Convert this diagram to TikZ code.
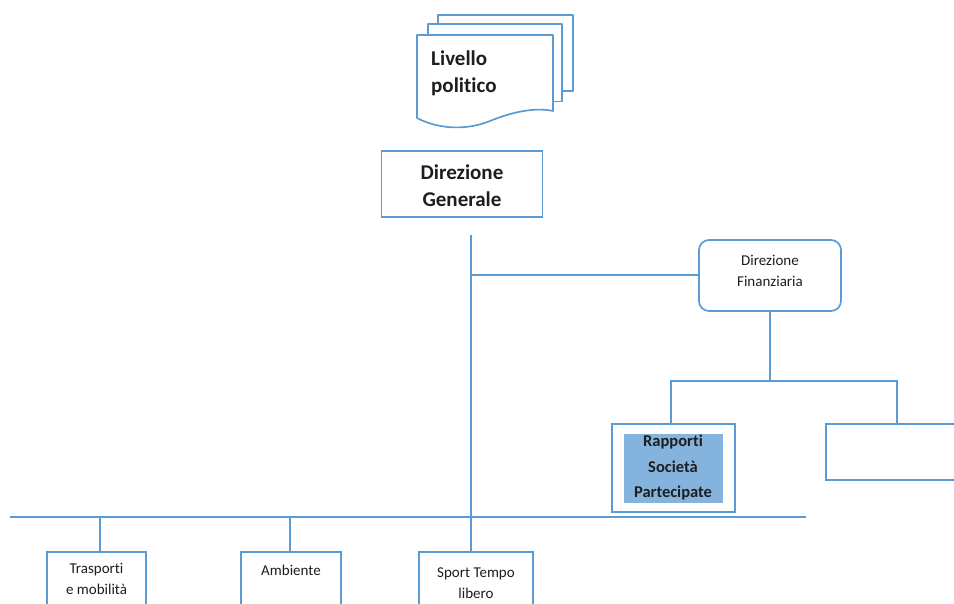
\documentclass[tikz,border=0pt]{standalone}
\usepackage{fontspec}
\setmainfont{Carlito}[RawFeature=-liga]
\definecolor{orgline}{RGB}{91,155,213}
\definecolor{orgfill}{RGB}{132,180,222}
\definecolor{orgtext}{RGB}{30,30,30}
\begin{document}
\begin{tikzpicture}[x=1pt,y=-1pt,
  wire/.style={draw=orgline,line width=2pt},
  box/.style={draw=orgline,line width=1.7pt,fill=white,inner sep=0pt,
    text=orgtext,align=center},
  label/.style={text=orgtext,align=center,inner sep=0pt},
  sheet/.style={draw=orgline,line width=1.7pt,fill=white,line join=round},
  bigbold/.style={font=\fontsize{21}{27}\selectfont\bfseries},
  midbold/.style={font=\fontsize{16.5}{25.5}\selectfont\bfseries},
  small/.style={font=\fontsize{15}{21}\selectfont}]
\useasboundingbox (0,0) rectangle (954,604);
\clip (0,0) rectangle (954,604);

% stacked documents
\draw[sheet] (438,24) -- (438,15) -- (573,15) -- (573,91) -- (562,91);
\draw[sheet] (428,35) -- (428,24) -- (562,24) -- (562,101.5) -- (553,101.5);
\draw[sheet] (417,35) -- (553,35) -- (553,111)
  .. controls (535,107) and (512,112) .. (490,121)
  .. controls (468,130) and (440,130) .. (417,118) -- cycle;
\node[label,anchor=west,bigbold,align=left] (politico) at (431,73)
  {Livello\\politico};

% general management
\node[box,bigbold,minimum width=161pt,minimum height=66pt] (dg)
  at (462,183.7) {};
\node[label,bigbold] (dgtext) at (462,186) {Direzione\\Generale};

% financial management
\node[box,rounded corners=10pt,minimum width=142pt,minimum height=71pt]
  (df) at (770,275.5) {};
\node[label,small] (dftext) at (770,271) {Direzione\\Finanziaria};

% offices under financial management
\node[box,minimum width=123pt,minimum height=88pt] (rsp) at (673.3,468) {};
\node[fill=orgfill,text=orgtext,midbold,align=center,inner sep=0pt,
  minimum width=99pt,minimum height=69pt] (rspin) at (673,468)
  {Rapporti\\Società\\Partecipate};
\node[box,minimum width=150pt,minimum height=56pt] (blank) at (901,452) {};

% departments
\node[box,minimum width=99pt,minimum height=80pt,anchor=north]
  (trasp) at (96.5,551) {};
\node[label,small] (trasptext) at (96.5,579) {Trasporti\\e mobilità};
\node[box,minimum width=100pt,minimum height=80pt,anchor=north]
  (amb) at (291,551) {};
\node[label,small] (ambtext) at (291,570) {Ambiente};
\node[box,minimum width=114pt,minimum height=80pt,anchor=north]
  (sport) at (476,551) {};
\node[label,small] (sporttext) at (476,583) {Sport Tempo\\libero};

% connectors
\coordinate (trunktop) at (470.5,235);
\coordinate (busL) at (10,517);
\coordinate (busR) at (806,517);
\coordinate (dfbus) at (770,381);

\draw[wire] (trunktop) -- (trunktop |- sport.north);
\draw[wire] (trunktop |- df.west) -- (df.west);
\draw[wire] (busL) -- (busR);
\draw[wire] (df.south) -- (dfbus);
\draw[wire] (rsp.north -| 671,0) |- (dfbus) -| (897,0 |- blank.north);
\draw[wire] (100,517) -- (100,0 |- trasp.north);
\draw[wire] (290,517) -- (290,0 |- amb.north);
\end{tikzpicture}
\end{document}
